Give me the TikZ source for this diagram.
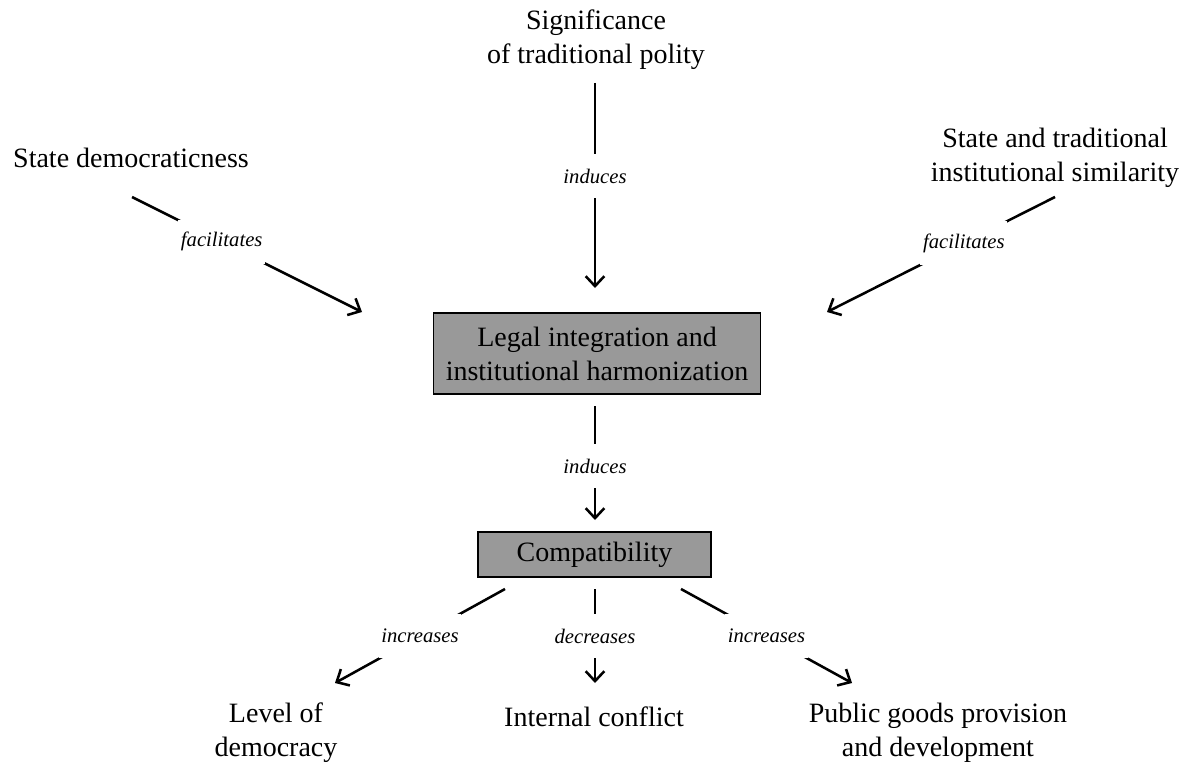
\documentclass[tikz,border=0pt]{standalone}
\usepackage{fontspec}
\setmainfont{Liberation Serif}
\usetikzlibrary{arrows.meta}
\begin{document}
\begin{tikzpicture}[x=0.75pt,y=-0.75pt,
  txt/.style={align=center,inner sep=0pt,font=\fontsize{21}{25.5}\selectfont},
  gbox/.style={draw=black,line width=1pt,fill=black!40,align=center,inner sep=0pt,font=\fontsize{21}{25.5}\selectfont},
  arr/.style={line width=1.9pt,-{Straight Barb[length=7.5pt,width=14pt]}},
  lbl/.style={fill=white,inner xsep=2pt,inner ysep=0pt,minimum height=32.5pt,font=\fontsize{15.5}{18}\itshape}]
\useasboundingbox (0,0) rectangle (1197,767);
% nodes
\node[txt] (sig) at (596,40) {Significance\\of traditional polity};
\node[txt] (sdem) at (131,158) {State democraticness};
\node[txt] (sim) at (1055,158) {State and traditional\\institutional similarity};
\node[gbox,minimum width=245.25pt,minimum height=60.75pt] (legal) at (597,353.5) {Legal integration and\\institutional harmonization};
\node[gbox,minimum width=174.75pt,minimum height=33.75pt] (compat) at (594.5,554.5) {Compatibility};
\node[txt] (lod) at (276,733) {Level of\\democracy};
\node[txt] (ic) at (594,717) {Internal conflict};
\node[txt] (pg) at (938,733) {Public goods provision\\and development};
% connector end points
\coordinate (sdemS) at (132,197);
\coordinate (legalW) at (362,312);
\coordinate (sigS) at (595,83);
\coordinate (legalN) at (595,288);
\coordinate (simS) at (1055,197);
\coordinate (legalE) at (827,312);
\coordinate (legalS) at (595,406);
\coordinate (compatN) at (595,520);
\coordinate (compatSW) at (505,589);
\coordinate (lodN) at (335,683);
\coordinate (compatS) at (595,589);
\coordinate (icN) at (595,683);
\coordinate (compatSE) at (681,589);
\coordinate (pgN) at (852,683);
% connectors
\draw[arr] (sdemS) -- node[lbl,pos=0.39] {facilitates} (legalW);
\draw[arr] (sigS) -- node[lbl,pos=0.454] {induces} (legalN);
\draw[arr] (simS) -- node[lbl,pos=0.4] {facilitates} (legalE);
\draw[arr] (legalS) -- node[lbl,pos=0.526] {induces} (compatN);
\draw[arr] (compatSW) -- node[lbl,pos=0.5] {increases} (lodN);
\draw[arr] (compatS) -- node[lbl,pos=0.5] {decreases} (icN);
\draw[arr] (compatSE) -- node[lbl,pos=0.5] {increases} (pgN);
\end{tikzpicture}
\end{document}
